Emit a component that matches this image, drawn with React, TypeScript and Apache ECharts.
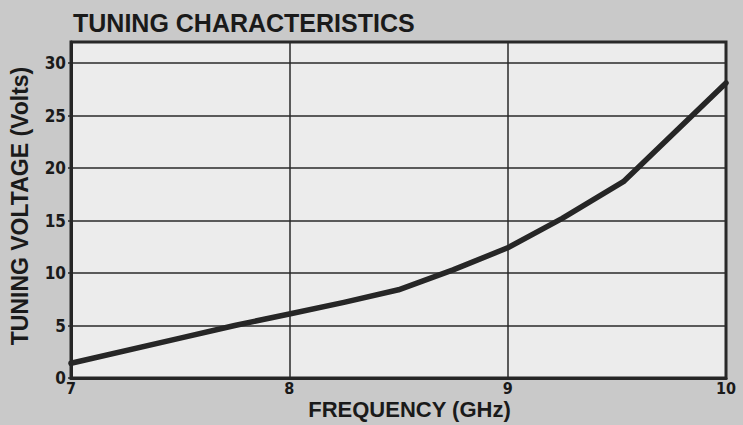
import React, { useEffect, useRef } from "react";
import * as echarts from "echarts";

const titleText = "TUNING CHARACTERISTICS";
const xAxisTitle = "FREQUENCY (GHz)";
const yAxisTitle = "TUNING VOLTAGE (Volts)";

const frequencyGHz = [7.0, 7.5, 7.75, 8.0, 8.25, 8.5, 8.75, 9.0, 9.25, 9.53, 10.0];
const tuningVolts = [1.4, 3.8, 5.0, 6.1, 7.2, 8.4, 10.3, 12.4, 15.2, 18.7, 28.1];

const xMin = 7;
const xMax = 10;
const xStep = 1;
const yMin = 0;
const yMax = 32;
const yStep = 5;

const narrow = "'Liberation Sans Narrow', 'DejaVu Sans Condensed', 'Liberation Sans', sans-serif";
const wide = "'Liberation Sans', Arial, sans-serif";

export default function App() {
  const ref = useRef<HTMLDivElement>(null);

  useEffect(() => {
    if (!ref.current) return;
    const chart = echarts.init(ref.current, null, { renderer: "svg" });
    const points = frequencyGHz.map((f, i) => [f, tuningVolts[i]]);
    chart.setOption({
      animation: false,
      backgroundColor: "#c9c9c9",
      title: {
        text: titleText,
        left: 68,
        top: 5,
        textStyle: { fontFamily: wide, fontWeight: "bold", fontSize: 25, color: "#1a1a1a" },
      },
      grid: {
        left: 71,
        right: 17,
        top: 42,
        bottom: 47,
        containLabel: false,
        outerBoundsMode: "none",
        show: true,
        backgroundColor: "#ececec",
        borderColor: "#262626",
        borderWidth: 3,
      },
      xAxis: {
        type: "value",
        min: xMin,
        max: xMax,
        interval: xStep,
        name: xAxisTitle,
        nameLocation: "middle",
        nameGap: 21,
        nameMoveOverlap: false,
        nameTextStyle: {
          fontFamily: wide,
          fontWeight: "bold",
          fontSize: 22,
          lineHeight: 20,
          color: "#1a1a1a",
          padding: [0, 0, 0, 22],
        },
        axisLine: { show: true, lineStyle: { color: "#262626", width: 3 } },
        axisTick: { show: false },
        axisLabel: {
          fontFamily: narrow,
          fontWeight: "bold",
          fontSize: 16,
          lineHeight: 15,
          color: "#1a1a1a",
          margin: 3,
        },
        splitLine: { show: true, lineStyle: { color: "#2a2a2a", width: 1.5 } },
      },
      yAxis: {
        type: "value",
        min: yMin,
        max: yMax,
        interval: yStep,
        name: yAxisTitle,
        nameLocation: "middle",
        nameGap: 40,
        nameMoveOverlap: false,
        nameTextStyle: {
          fontFamily: wide,
          fontWeight: "bold",
          fontSize: 23,
          color: "#1a1a1a",
          padding: [0, 0, 0, 8],
        },
        axisLine: { show: true, lineStyle: { color: "#262626", width: 3 } },
        axisTick: { show: true, length: 3, lineStyle: { color: "#262626", width: 1.5 } },
        axisLabel: {
          fontFamily: narrow,
          fontWeight: "bold",
          fontSize: 17,
          color: "#1a1a1a",
          margin: 5,
          showMaxLabel: false,
        },
        splitLine: { show: true, lineStyle: { color: "#2a2a2a", width: 1.5 } },
      },
      series: [
        {
          type: "line",
          data: points,
          showSymbol: false,
          symbol: "none",
          lineStyle: { color: "#262626", width: 5.5, cap: "round", join: "round" },
          z: 5,
        },
      ],
    });
    return () => chart.dispose();
  }, []);

  return (
    <div
      ref={ref}
      style={{ position: "fixed", left: 0, top: 0, width: 743, height: 425 }}
    />
  );
}
